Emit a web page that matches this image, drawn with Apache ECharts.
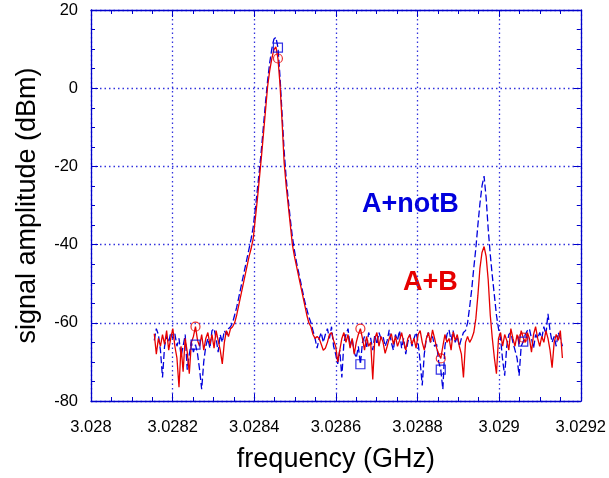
<!DOCTYPE html>
<html><head><meta charset="utf-8">
<script src="https://cdn.jsdelivr.net/npm/echarts@6/dist/echarts.min.js"></script>
<style>html,body{margin:0;padding:0;background:#fff}#c{width:609px;height:478px}</style>
</head><body><div id="c"></div>
<script>
// Sweep definition (GHz): uniform frequency sweep, one amplitude per point
const sweepStartGHz = 3.028155;
const sweepStopGHz = 3.029155;

// A+notB (blue, dashed) amplitude in dBm
const ampAplusNotB = [
  -64.5, -61.5, -63, -67, -74, -66, -63.5, -65, -62.5, -64,
  -62.8, -66, -64, -68.5, -66, -63, -72, -68, -65, -67.5,
  -65.6, -68, -72, -77, -70, -66, -64, -66.5, -62, -61.5,
  -64, -67.5, -63, -65, -62, -63, -61.5, -61, -60, -58,
  -56, -53.5, -51, -48.5, -46, -43.5, -41, -38.5, -35.5, -31,
  -26, -21, -15.5, -9.5, -3.5, 2, 6.5, 10, 12.5, 13,
  10.4, 3, -6.5, -16, -23, -28.5, -33.5, -38, -41.5, -44.5,
  -47, -49.5, -52, -54.5, -56.5, -58.5, -60, -62, -64, -66.5,
  -64, -62.5, -65, -63, -61.5, -64, -61, -66, -68, -70.5,
  -67, -74, -65, -63, -61.5, -66, -64, -67.5, -69, -66,
  -70.6, -65, -63.5, -66.5, -62.5, -64, -67, -63, -65.5, -62.5,
  -64, -63.5, -66, -64.5, -61.8, -65, -67, -63, -64.5, -62,
  -66.5, -64, -68, -65, -63, -66, -64, -62.5, -65, -70,
  -76, -68, -64, -62.5, -65, -63.5, -66, -65.5, -70, -72,
  -77, -66, -63, -61.8, -64.5, -62, -65, -63.5, -66, -64,
  -62.5, -62, -60, -56, -51.5, -46, -41, -35, -29.5, -25,
  -22.5, -28, -36, -42.5, -48, -53, -58, -61.5, -64, -69.5,
  -73.5, -66, -63, -62.5, -65, -67, -69, -73.5, -66, -64.8,
  -63, -62, -61.5, -64, -66.5, -63, -64, -62.5, -64, -61,
  -63, -57.7, -62, -65, -63.5, -66, -62.5, -64, -66
];

// A+B (red, solid) amplitude in dBm
const ampAplusB = [
  -62.8, -68, -64, -66, -63, -65.5, -62, -67, -64, -61.5,
  -66, -69, -76.5, -66, -72.5, -64, -67.5, -73, -65, -63.5,
  -61, -64.5, -66, -63, -67, -64, -62.5, -65.5, -63, -66.5,
  -62, -64.5, -67, -70.5, -65, -62, -63.5, -61.5, -61, -60,
  -58, -55.5, -53, -50.5, -48, -45.5, -43, -41, -38.5, -33.5,
  -28.5, -23, -17.5, -11.5, -5.5, 0.5, 4.5, 7.5, 9.8, 10.6,
  7.6, 1, -8.5, -19, -25, -30, -35, -40, -43, -45.5,
  -48, -50.5, -53, -55.5, -58, -60, -61, -63, -64, -63.5,
  -64, -65.5, -67, -66.5, -65, -63, -62.5, -64.5, -66, -70,
  -67, -64, -62.5, -65, -63, -66.5, -64, -68, -65, -63,
  -61.5, -64, -67, -63.5, -66, -65, -74.5, -64, -62.5, -66,
  -63.5, -65, -67.8, -66, -64, -62.8, -65.5, -63.5, -66, -64.5,
  -62.5, -65, -67, -64, -63, -65.5, -64, -66.5, -63, -62,
  -65, -67, -64, -62.5, -65, -61.8, -64, -66.5, -68, -69.1,
  -66, -63, -65, -64, -67, -62.3, -64.5, -63, -66, -68,
  -74, -65, -63.5, -65, -64, -62.5, -59, -53, -46, -42,
  -40.5, -43, -49, -58, -64, -69, -73, -64, -62.5, -66,
  -63, -64.5, -67, -61.5, -64, -66, -63, -65.5, -62, -63.8,
  -65, -62.5, -64, -67.5, -63, -61, -64, -66, -63.5, -65,
  -62, -64, -67, -71.5, -65, -63, -64.5, -62, -69
];

// Sweep points that carry a marker symbol
const markerIndices = [20, 60, 100, 139, 179];

// Axis ranges / tick spacing
const xMin = 3.028, xMax = 3.0292, xStep = 0.0002;
const yMin = -80, yMax = 20, yStep = 20;

const seriesLabels = ['A+notB', 'A+B'];

const n = ampAplusB.length;
const freq = [];
for (let i = 0; i < n; i++) freq.push(sweepStartGHz + i * (sweepStopGHz - sweepStartGHz) / (n - 1));
const pairs = arr => arr.map((v, i) => [freq[i], v]);
const markerPairs = arr => markerIndices.map(i => [freq[i], arr[i]]);

const BLUE = '#0000dd', RED = '#e60000', AXIS = '#0000cc', GRID = '#3333dd';
const FONT = '"Liberation Sans", Arial, sans-serif';

const axisCommon = () => ({
  axisLine: { show: true, onZero: false, lineStyle: { color: AXIS, width: 1.3 } },
  axisTick: { show: true, inside: true, length: 7, lineStyle: { color: AXIS, width: 1 } },
  minorTick: { show: true, splitNumber: 4, length: 4, lineStyle: { color: AXIS, width: 1 } }
});

const chart = echarts.init(document.getElementById('c'), null, { renderer: 'canvas' });
chart.setOption({
  animation: false,
  backgroundColor: '#fff',
  grid: { left: 91, right: 25, top: 10, bottom: 73, containLabel: false },
  xAxis: [
    Object.assign({
      type: 'value', min: xMin, max: xMax, interval: xStep, position: 'bottom',
      splitLine: { show: true, lineStyle: { color: GRID, width: 1.3, type: [1.5, 3] } },
      axisLabel: { color: '#000', fontSize: 16.5, fontFamily: FONT, margin: 18,
        showMinLabel: true, showMaxLabel: true,
        formatter: v => String(parseFloat(v.toFixed(5))) },
      name: 'frequency (GHz)', nameLocation: 'middle', nameGap: 45,
      nameTextStyle: { color: '#000', fontSize: 27, fontFamily: FONT }
    }, axisCommon()),
    Object.assign({
      type: 'value', min: xMin, max: xMax, interval: xStep, position: 'top',
      splitLine: { show: false }, axisLabel: { show: false }
    }, axisCommon())
  ],
  yAxis: [
    Object.assign({
      type: 'value', min: yMin, max: yMax, interval: yStep, position: 'left',
      splitLine: { show: true, lineStyle: { color: GRID, width: 1.3, type: [1.5, 3] } },
      axisLabel: { color: '#000', fontSize: 16.5, fontFamily: FONT, margin: 13 },
      name: 'signal amplitude (dBm)', nameLocation: 'middle', nameGap: 50,
      nameTextStyle: { color: '#000', fontSize: 27, fontFamily: FONT }
    }, axisCommon()),
    Object.assign({
      type: 'value', min: yMin, max: yMax, interval: yStep, position: 'right',
      splitLine: { show: false }, axisLabel: { show: false }
    }, axisCommon())
  ],
  series: [
    { name: seriesLabels[0], type: 'line', data: pairs(ampAplusNotB), showSymbol: false, symbol: 'none',
      lineStyle: { color: BLUE, width: 1.3, type: [7, 3] }, z: 2 },
    { name: seriesLabels[1], type: 'line', data: pairs(ampAplusB), showSymbol: false, symbol: 'none',
      lineStyle: { color: RED, width: 1.3 }, z: 3 },
    { type: 'scatter', data: markerPairs(ampAplusNotB), symbol: 'rect', symbolSize: 9,
      itemStyle: { color: 'rgba(0,0,0,0)', borderColor: BLUE, borderWidth: 1.2 }, z: 4 },
    { type: 'scatter', data: markerPairs(ampAplusB), symbol: 'circle', symbolSize: 9,
      itemStyle: { color: 'rgba(0,0,0,0)', borderColor: RED, borderWidth: 1.2 }, z: 4 }
  ],
  graphic: [
    { type: 'text', left: 362, top: 191, style: { text: seriesLabels[0], fill: BLUE, font: 'bold 27px ' + FONT } },
    { type: 'text', left: 403, top: 269, style: { text: seriesLabels[1], fill: RED, font: 'bold 27px ' + FONT } }
  ]
});
</script></body></html>
